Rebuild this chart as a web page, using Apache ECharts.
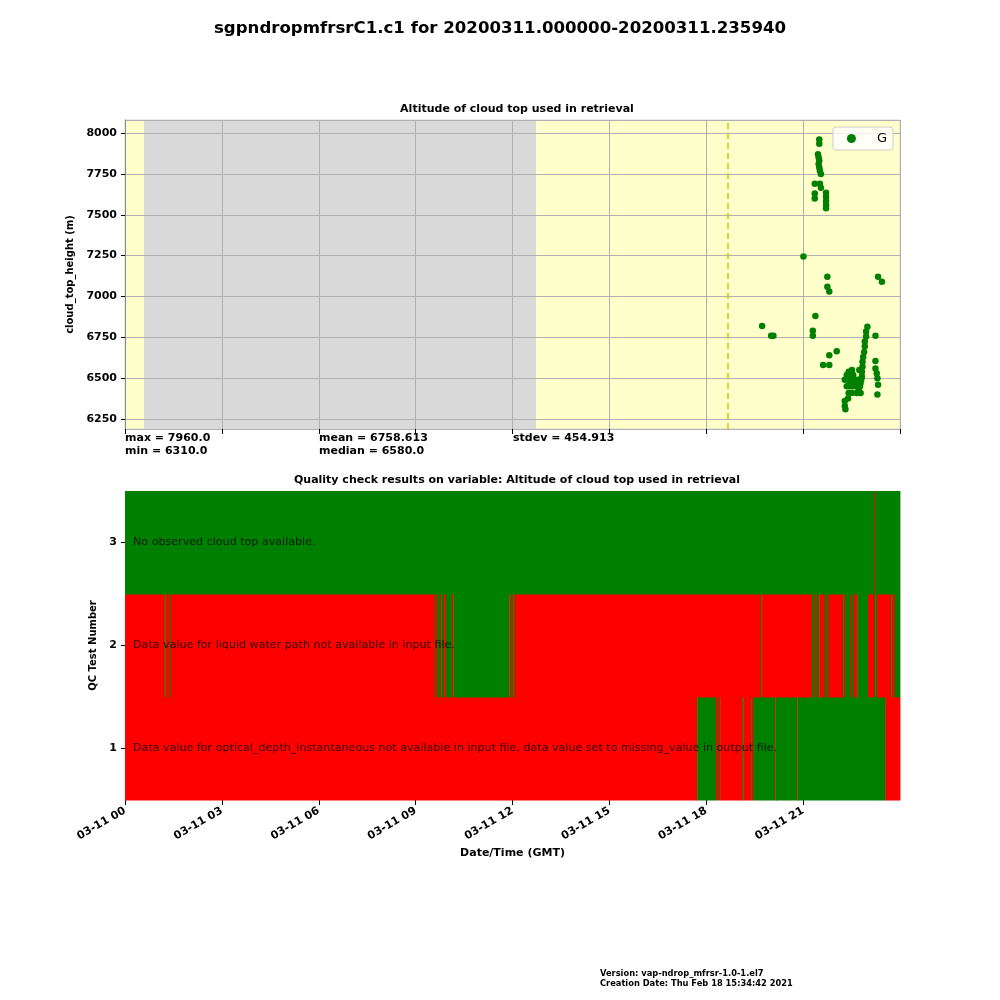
<!DOCTYPE html>
<html><head><meta charset="utf-8">
<script src="https://cdn.jsdelivr.net/npm/echarts@6/dist/echarts.min.js"></script>
<style>html,body{margin:0;padding:0;background:#fff}#c{width:1000px;height:1000px}</style>
</head><body><div id="c"></div>
<script>
// ---------- data ----------
const mainTitle = 'sgpndropmfrsrC1.c1 for 20200311.000000-20200311.235940';
const topTitle = 'Altitude of cloud top used in retrieval';
const bottomTitle = 'Quality check results on variable: Altitude of cloud top used in retrieval';
const xTickDatePrefix = '03-11 ';
const seriesName = 'G';
// [hour of day (GMT), cloud_top_height (m)]
const cloudTopPoints = [
  [21.50,7960],[21.50,7935],
  [21.46,7870],[21.48,7850],[21.50,7830],[21.48,7810],[21.50,7790],[21.52,7770],[21.55,7750],
  [21.36,7690],[21.36,7630],[21.36,7600],
  [21.52,7690],[21.55,7665],[21.71,7635],[21.71,7610],[21.71,7585],[21.71,7560],[21.71,7540],
  [21.01,7245],[21.75,7120],[21.75,7060],[21.81,7030],[23.32,7120],[23.44,7090],
  [21.38,6880],[21.30,6790],[21.30,6760],[19.73,6820],[20.01,6760],[20.08,6760],
  [22.04,6665],[21.81,6640],[21.62,6580],[21.81,6580],
  [22.99,6815],[22.95,6785],[22.95,6755],[22.91,6725],[22.91,6695],[22.89,6660],[22.86,6630],
  [22.84,6600],[22.84,6570],[22.82,6540],[22.82,6510],
  [23.24,6760],[23.24,6605],[23.24,6560],[23.28,6530],[23.30,6500],[23.30,6400],[23.32,6460],
  [22.51,6550],[22.35,6520],[22.45,6520],[22.55,6520],
  [22.29,6490],[22.39,6490],[22.50,6490],[22.60,6490],[22.70,6490],[22.80,6490],
  [22.35,6450],[22.45,6450],[22.55,6450],[22.66,6450],[22.76,6450],
  [22.41,6410],[22.51,6410],[22.66,6410],[22.78,6410],
  [22.39,6375],[22.29,6360],[22.29,6330],[22.31,6310],
  [22.74,6550],[22.78,6470],[22.72,6430],[22.62,6470],[22.47,6470],[22.41,6540]
];
const statMax = '7960.0';
const statMin = '6310.0';
const statMean = '6758.613';
const statMedian = '6580.0';
const statStdev = '454.913';
const missingPeriod = [0.59, 12.73];   // grey shaded period (hours)
const dashedLineHour = 18.67;
const qcTests = ['1', '2', '3'];
const qcMessages = [
  'Data value for optical_depth_instantaneous not available in input file, data value set to missing_value in output file.',
  'Data value for liquid water path not available in input file.',
  'No observed cloud top available.'
];
// QC state transitions: [hour, flag]  flag 1 = test failed (red), 0 = passed (green)
const qcTest1 = [[0,1],[17.72,0],[18.30,1],[18.39,0],[18.43,1],[19.11,0],[19.15,1],[19.40,0],[19.44,1],[19.48,0],
  [20.14,1],[20.16,0],[20.82,1],[20.84,0],[23.55,1]];
const qcTest2 = [[0,1],[1.21,0],[1.25,1],[1.38,0],[1.42,1],[9.60,0],[9.65,1],[9.69,0],[9.75,1],[9.79,0],[9.88,1],
  [9.94,0],[10.12,1],[10.17,0],[11.90,1],[11.94,0],[11.98,1],[12.02,0],[12.07,1],[19.70,0],[19.73,1],
  [21.27,0],[21.36,1],[21.42,0],[21.50,1],[21.67,0],[21.71,1],[21.73,0],[21.79,1],[22.24,0],[22.29,1],
  [22.32,0],[22.47,1],[22.51,0],[22.57,1],[22.68,0],[23.01,1],[23.19,0],[23.24,1],[23.28,0],[23.31,1],
  [23.73,0],[23.77,1],[23.84,0]];
const qcTest3 = [[0,0],[23.19,1],[23.22,0]];
const versionText = 'Version: vap-ndrop_mfrsr-1.0-1.el7';
const creationText = 'Creation Date: Thu Feb 18 15:34:42 2021';

// ---------- build ----------
function toSegments(trans, idx) {
  const out = [];
  for (let i = 0; i < trans.length; i++) {
    const end = i + 1 < trans.length ? trans[i + 1][0] : 24;
    out.push([trans[i][0], end, idx, trans[i][1]]);
  }
  return out;
}
const qcSegments = [].concat(toSegments(qcTest1, 0), toSegments(qcTest2, 1), toSegments(qcTest3, 2));
const pad = n => (n < 10 ? '0' : '') + n;
const F = 'DejaVu Sans';

const chart = echarts.init(document.getElementById('c'));
chart.setOption({
  animation: false,
  textStyle: { fontFamily: F },
  title: [
    { text: mainTitle, left: 'center', top: 15, textStyle: { fontSize: 16.6, fontWeight: 'bold', color: '#000', fontFamily: F } },
    { text: topTitle, left: 512, textAlign: 'center', top: 99, textStyle: { fontSize: 11, fontWeight: 'bold', color: '#000', fontFamily: F } },
    { text: bottomTitle, left: 512, textAlign: 'center', top: 470, textStyle: { fontSize: 11, fontWeight: 'bold', color: '#000', fontFamily: F } }
  ],
  legend: {
    data: [{ name: seriesName, icon: 'circle' }],
    right: 107, top: 127, orient: 'vertical',
    itemWidth: 9, itemHeight: 9,
    backgroundColor: 'rgba(255,255,255,0.8)', borderColor: '#cccccc', borderWidth: 1, borderRadius: 3,
    padding: [5, 6, 5, 14],
    textStyle: { fontSize: 13, color: '#000', fontFamily: F, padding: [0, 0, 0, 16] }
  },
  grid: [
    { left: 125, top: 120, width: 775, height: 309, show: true, backgroundColor: '#ffffcc', borderColor: '#d6d6d6', borderWidth: 1 },
    { left: 125, top: 491, width: 775, height: 309 }
  ],
  xAxis: [
    { gridIndex: 0, type: 'value', min: 0, max: 24, interval: 3, z: 2,
      axisLine: { show: false }, axisLabel: { show: false },
      axisTick: { show: true, length: 5, lineStyle: { color: '#000' } },
      splitLine: { show: true, lineStyle: { color: '#b0b0b0', width: 1 } } },
    { gridIndex: 1, type: 'value', min: 0, max: 24, interval: 3,
      axisLine: { show: false }, splitLine: { show: false },
      axisTick: { show: true, length: 5, lineStyle: { color: '#000' } },
      axisLabel: { formatter: v => xTickDatePrefix + pad(v), rotate: 30, fontSize: 11, fontWeight: 'bold', color: '#000', margin: 10, showMaxLabel: false },
      name: 'Date/Time (GMT)', nameLocation: 'middle', nameGap: 48,
      nameTextStyle: { fontSize: 11, fontWeight: 'bold', color: '#000' } }
  ],
  yAxis: [
    { gridIndex: 0, type: 'value', min: 6189, max: 8080, minInterval: 250, maxInterval: 250, z: 2,
      axisLine: { show: true, lineStyle: { color: '#888' } },
      axisTick: { show: true, length: 4, lineStyle: { color: '#000' } },
      axisLabel: { fontSize: 11, fontWeight: 'bold', color: '#000', margin: 8, showMinLabel: false, showMaxLabel: false,
        formatter: v => String(v) },
      splitLine: { show: true, lineStyle: { color: '#b0b0b0', width: 1 } },
      name: 'cloud_top_height (m)', nameLocation: 'middle', nameGap: 40,
      nameTextStyle: { fontSize: 10, fontWeight: 'bold', color: '#000' } },
    { gridIndex: 1, type: 'category', data: qcTests,
      axisLine: { show: false },
      axisTick: { show: true, alignWithLabel: true, length: 4, lineStyle: { color: '#000' } },
      axisLabel: { fontSize: 11, fontWeight: 'bold', color: '#000', margin: 8 },
      name: 'QC Test Number', nameLocation: 'middle', nameGap: 21,
      nameTextStyle: { fontSize: 10, fontWeight: 'bold', color: '#000' } }
  ],
  graphic: [
    { type: 'text', left: 125, top: 432, style: { text: 'max = ' + statMax + '\nmin = ' + statMin, font: 'bold 11px "DejaVu Sans"', fill: '#000', lineHeight: 13 } },
    { type: 'text', left: 319, top: 432, style: { text: 'mean = ' + statMean + '\nmedian = ' + statMedian, font: 'bold 11px "DejaVu Sans"', fill: '#000', lineHeight: 13 } },
    { type: 'text', left: 513, top: 432, style: { text: 'stdev = ' + statStdev, font: 'bold 11px "DejaVu Sans"', fill: '#000', lineHeight: 13 } },
    { type: 'text', left: 600, top: 969, style: { text: versionText + '\n' + creationText, font: 'bold 8.3px "DejaVu Sans"', fill: '#000', lineHeight: 10 } }
  ],
  series: [
    { type: 'line', xAxisIndex: 0, yAxisIndex: 0, data: [], z: 1, silent: true,
      markArea: { silent: true, itemStyle: { color: '#d9d9d9' }, data: [[{ xAxis: missingPeriod[0] }, { xAxis: missingPeriod[1] }]] },
      markLine: { silent: true, symbol: 'none', label: { show: false },
        lineStyle: { color: '#c8c800', type: [6, 4], width: 1.5 }, data: [{ xAxis: dashedLineHour }] } },
    { name: seriesName, type: 'scatter', xAxisIndex: 0, yAxisIndex: 0, z: 5,
      symbolSize: 6.5, itemStyle: { color: '#008000', opacity: 1 }, data: cloudTopPoints },
    { type: 'custom', xAxisIndex: 1, yAxisIndex: 1, z: 2,
      encode: { x: [0, 1], y: 2 },
      renderItem: (params, api) => {
        const s = api.coord([api.value(0), api.value(2)]);
        const e = api.coord([api.value(1), api.value(2)]);
        const h = api.size([0, 1])[1];
        return { type: 'rect',
          shape: { x: s[0], y: s[1] - h / 2, width: Math.max(e[0] - s[0], 1) + 0.4, height: h + 0.4 },
          style: { fill: api.value(3) ? '#ff0000' : '#008000' } };
      },
      data: qcSegments },
    { type: 'scatter', xAxisIndex: 1, yAxisIndex: 1, z: 6, symbolSize: 0, silent: true,
      label: { show: true, position: 'right', distance: 0, fontSize: 11.1, color: '#000', fontFamily: F,
        formatter: p => qcMessages[p.dataIndex] },
      data: [[0.25, 0], [0.25, 1], [0.25, 2]] }
  ]
});
</script></body></html>
